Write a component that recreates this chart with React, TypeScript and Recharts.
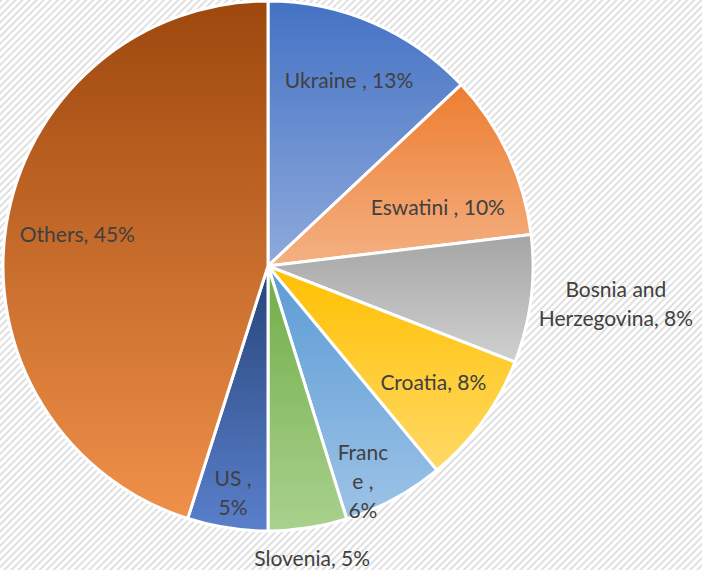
import { PieChart, Pie, Cell } from 'recharts';

const countries = ['Ukraine', 'Eswatini', 'Bosnia and Herzegovina', 'Croatia', 'France', 'Slovenia', 'US', 'Others'];
const shares = [13, 10.1, 7.8, 8.1, 6.2, 4.8, 4.9, 45.1];
const labelText = [
  ['Ukraine , 13%'],
  ['Eswatini , 10%'],
  ['Bosnia and', 'Herzegovina, 8%'],
  ['Croatia, 8%'],
  ['Franc', 'e ,', '6%'],
  ['Slovenia, 5%'],
  ['US ,', '5%'],
  ['Others, 45%'],
];

const data = countries.map((name, i) => ({ name, value: shares[i] }));

// excel-ish gradient fills, darker at the top
const TOP = ['#4472c4', '#ed7d31', '#a5a5a5', '#ffc000', '#5b9bd5', '#70ad47', '#264478', '#9e480e'];
const BOTTOM = ['#8faadc', '#f4b183', '#d0d0d0', '#ffd966', '#9dc3e6', '#a9d18e', '#5a80cc', '#f0914a'];

// label placement: fraction of radius + small angle nudge (deg)
const LABEL_R = [0.77, 0.68, 1.32, 0.76, 0.883, 1.11, 0.86, 0.73];
const LABEL_NUDGE = [0, -5.5, 1.2, 1, -4.5, 0, 0, -1];
const RAD = Math.PI / 180;

const renderLabel = (props: any) => {
  const { cx, cy, midAngle, outerRadius, index } = props;
  const a = (midAngle + LABEL_NUDGE[index]) * RAD;
  const r = outerRadius * LABEL_R[index];
  const x = cx + r * Math.cos(-a);
  const y = cy + r * Math.sin(-a);
  const lines = labelText[index];
  const lh = 29;
  const y0 = y - ((lines.length - 1) * lh) / 2;
  return (
    <text
      key={index}
      x={x}
      y={y0}
      textAnchor="middle"
      dominantBaseline="central"
      fill="#404040"
      fontSize={21}
      fontFamily="Lato, sans-serif"
    >
      {lines.map((l, j) => (
        <tspan key={j} x={x} y={y0 + j * lh}>
          {l}
        </tspan>
      ))}
    </text>
  );
};

export default function App() {
  return (
    <div style={{ position: 'absolute', left: 0, top: 0, width: 702, height: 570 }}>
      <svg width={702} height={570} style={{ position: 'absolute', left: 0, top: 0 }}>
        <defs>
          <pattern id="stripes" width={5} height={5} patternUnits="userSpaceOnUse" patternTransform="rotate(45)">
            <rect width={5} height={5} fill="#ffffff" />
            <line x1={1} y1={0} x2={1} y2={5} stroke="#d9d9d9" strokeWidth={1.6} />
          </pattern>
        </defs>
        <rect width={702} height={570} fill="url(#stripes)" />
      </svg>
      <div style={{ position: 'absolute', left: 0, top: 0 }}>
        <PieChart width={702} height={570} margin={{ top: 0, right: 0, bottom: 0, left: 0 }}>
          <defs>
            {TOP.map((c, i) => (
              <linearGradient key={i} id={`g${i}`} x1="0" y1="0" x2="0" y2="1">
                <stop offset="0%" stopColor={c} />
                <stop offset="100%" stopColor={BOTTOM[i]} />
              </linearGradient>
            ))}
          </defs>
          <Pie
            data={data}
            dataKey="value"
            nameKey="name"
            cx={268}
            cy={266}
            outerRadius={265}
            startAngle={90}
            endAngle={-270}
            stroke="#ffffff"
            strokeWidth={3}
            label={renderLabel}
            labelLine={false}
            isAnimationActive={false}
          >
            {data.map((_, i) => (
              <Cell key={i} fill={`url(#g${i})`} />
            ))}
          </Pie>
        </PieChart>
      </div>
    </div>
  );
}
